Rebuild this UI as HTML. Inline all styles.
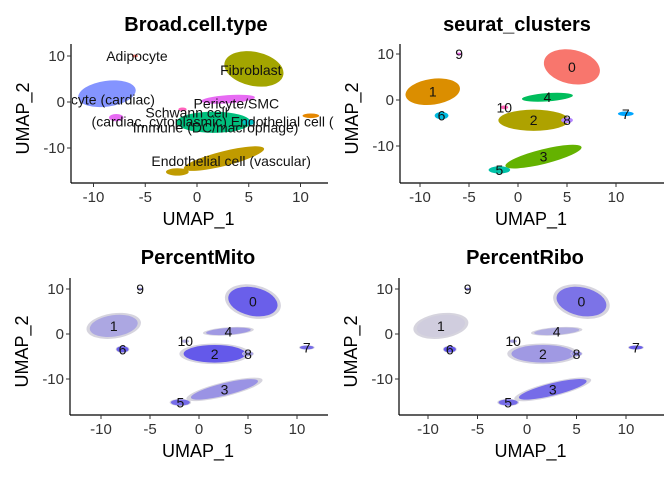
<!DOCTYPE html>
<html><head><meta charset="utf-8">
<style>
body{margin:0;background:#fff;}
svg text{font-family:"Liberation Sans",sans-serif;}
</style></head>
<body>
<svg id="c" width="672" height="480" xmlns="http://www.w3.org/2000/svg"></svg>
<script>
const clusterIds=[0,1,2,3,4,5,6,7,8,9,10];
const clusterX=[5.5,-8.7,1.6,2.6,3.0,-1.9,-7.8,11.0,5.0,-6.0,-1.4];
const clusterY=[7.2,1.8,-4.4,-12.3,0.6,-15.2,-3.4,-3.0,-4.4,10.0,-1.6];
const clusterRX=[2.9,2.8,3.6,4.0,2.6,1.1,0.7,0.8,0.6,0.3,0.4];
const clusterRY=[3.7,2.8,2.3,1.6,0.9,0.8,0.8,0.5,0.6,0.3,0.4];
const clusterRot=[12,-8,0,-14,-4,0,0,0,0,0,0];
const seuratColors=["#F8766D","#DB8E00","#AEA200","#64B200","#00BD5C","#00C1A7","#00BADE","#00A6FF","#B385FF","#EF67EB","#FF63B6"];
const cellTypeColors=["#A3A500","#8494FF","#00BF7D","#C09B00","#E76BF3","#C09B00","#E76BF3","#E58700","#00BFC4","#F8766D","#FF62BC"];
const mitoLevel=[0.9,0.35,0.95,0.5,0.45,0.8,0.9,0.8,0.4,0.5,0.3];
const riboLevel=[0.75,0.05,0.45,0.8,0.3,0.8,0.95,0.9,0.5,0.6,0.4];
const cellTypeLabels=["Adipocyte","Fibroblast","ocyte (cardiac)","Pericyte/SMC","Schwann cell","(cardiac, cytoplasmic) Endothelial cell (","Immune (DC/macrophage)","Endothelial cell (vascular)"];
const cellTypeLabelX=[-5.8,5.2,-8.5,3.8,-1.0,1.5,1.8,3.3];
const cellTypeLabelY=[10,7,0.5,-0.3,-2.3,-4.2,-5.5,-12.8];
const xTicks=[-10,-5,0,5,10];
const yTicks=[-10,0,10];

const NS="http://www.w3.org/2000/svg";
const svg=document.getElementById('c');
function mk(t,a,p){const e=document.createElementNS(NS,t);for(const k in a)e.setAttribute(k,a[k]);(p||svg).appendChild(e);return e;}

const panels=[
 {name:"broad-cell-type",title:"Broad.cell.type",x0:197,xs:10.35,y0:102,ys:4.6,left:71,bottom:183,right:336,top:44,tx:196,ty:31,mode:"type"},
 {name:"seurat-clusters",title:"seurat_clusters",x0:518,xs:9.8,y0:100,ys:4.6,left:400,bottom:183,right:672,top:44,tx:517,ty:31,mode:"clust"},
 {name:"percent-mito",title:"PercentMito",x0:199,xs:9.8,y0:334,ys:4.5,left:70,bottom:415,right:336,top:278,tx:198,ty:264,mode:"mito"},
 {name:"percent-ribo",title:"PercentRibo",x0:527,xs:9.9,y0:334,ys:4.5,left:399,bottom:415,right:672,top:278,tx:525,ty:264,mode:"ribo"}
];
panels.forEach((p,pi)=>{
 const g=mk('g',{});
 
 
 const X=v=>p.x0+v*p.xs, Y=v=>p.y0-v*p.ys;
 const cid='clip'+pi;
 const cp=mk('clipPath',{id:cid},g);mk('rect',{x:p.left+1,y:p.top,width:p.right-p.left,height:p.bottom-p.top},cp);
 const pg=mk('g',{'clip-path':'url(#'+cid+')'},g);
 clusterIds.forEach((id,i)=>{
  const cx=X(clusterX[i]),cy=Y(clusterY[i]);
  let fill;
  if(p.mode==="type")fill=cellTypeColors[i];else if(p.mode==="clust")fill=seuratColors[i];else fill="#D6D4DE";
  const e=mk('ellipse',{cx:cx,cy:cy,rx:clusterRX[i]*p.xs,ry:clusterRY[i]*p.ys,fill:fill,transform:`rotate(${clusterRot[i]} ${cx} ${cy})`},pg);
  
  
  if(p.mode==="mito"||p.mode==="ribo"){
   const lv=p.mode==="mito"?mitoLevel[i]:riboLevel[i];
   const o=mk('ellipse',{cx:cx,cy:cy,rx:clusterRX[i]*p.xs*0.88,ry:clusterRY[i]*p.ys*0.85,fill:"#2B1BF0",opacity:lv*0.7,transform:`rotate(${clusterRot[i]} ${cx} ${cy})`},pg);
   
   
  }
 });
 if(p.mode==="type"){
  cellTypeLabels.forEach((l,i)=>{
   const t=mk('text',{x:X(cellTypeLabelX[i]),y:Y(cellTypeLabelY[i])+5,'font-size':14,'text-anchor':'middle',fill:'#111'},pg);
   t.textContent=l;
   
   
  });
 } else {
  clusterIds.forEach((id,i)=>{
   const t=mk('text',{x:X(clusterX[i]),y:Y(clusterY[i])+5,'font-size':14,'text-anchor':'middle',fill:'#111'},pg);
   t.textContent=String(id);
   
   
  });
 }
 mk('line',{x1:p.left,y1:p.top,x2:p.left,y2:p.bottom,stroke:'#000','stroke-width':1.2},g);
 mk('line',{x1:p.left,y1:p.bottom,x2:p.right-8,y2:p.bottom,stroke:'#000','stroke-width':1.2},g);
 xTicks.forEach(v=>{
  mk('line',{x1:X(v),x2:X(v),y1:p.bottom,y2:p.bottom+4,stroke:'#333'},g);
  const t=mk('text',{x:X(v),y:p.bottom+19,'font-size':15,'text-anchor':'middle',fill:'#333'},g);
  t.textContent=v<0?'-'+Math.abs(v):String(v);
  
  
 });
 yTicks.forEach(v=>{
  mk('line',{x1:p.left-4,x2:p.left,y1:Y(v),y2:Y(v),stroke:'#333'},g);
  const t=mk('text',{x:p.left-6,y:Y(v)+5,'font-size':15,'text-anchor':'end',fill:'#333'},g);
  t.textContent=v<0?'-'+Math.abs(v):String(v);
  
  
 });
 const tt=mk('text',{x:p.tx,y:p.ty,'font-size':20,'font-weight':'bold','text-anchor':'middle',fill:'#000'},g);
 tt.textContent=p.title;
 
 
 const xl=mk('text',{x:(p.left+p.right)/2-5,y:p.bottom+42,'font-size':18,'text-anchor':'middle',fill:'#000'},g);
 xl.textContent='UMAP_1';
 
 
 const yc=(p.top+p.bottom)/2+5, xx=p.left-42;
 const yl=mk('text',{x:xx,y:yc,'font-size':18,'text-anchor':'middle',fill:'#000',transform:`rotate(-90 ${xx} ${yc})`},g);
 yl.textContent='UMAP_2';
 
 
});
</script>
</body></html>
